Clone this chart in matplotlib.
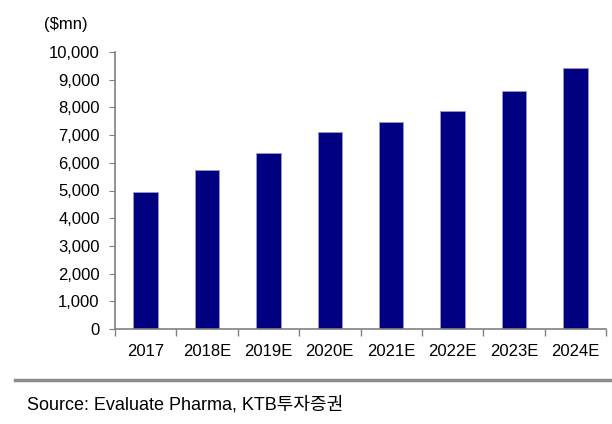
import matplotlib
matplotlib.use('Agg')
import matplotlib.pyplot as plt
from matplotlib.ticker import FuncFormatter, FixedLocator
from matplotlib.lines import Line2D

# market size ($mn)
years = ['2017', '2018E', '2019E', '2020E', '2021E', '2022E', '2023E', '2024E']
sales = [4960, 5730, 6340, 7120, 7460, 7860, 8600, 9430]

plt.rcParams['font.family'] = ['Liberation Sans Narrow', 'Liberation Sans', 'DejaVu Sans']

fig = plt.figure(figsize=(6.12, 4.24), dpi=100)
ax = fig.add_axes([115 / 612, 95 / 424, 491 / 612, 277 / 424])

x = range(len(years))
ax.bar(x, sales, width=0.4, color='#000080', edgecolor='#9999cc', linewidth=0.6)

ax.set_xlim(-0.5, len(years) - 0.5)
ax.set_ylim(0, 10000)
ax.set_yticks(range(0, 10001, 1000))
ax.yaxis.set_major_formatter(FuncFormatter(lambda v, p: f'{int(v):,}'))
ax.set_xticks(list(x))
ax.set_xticklabels(years)
ax.xaxis.set_minor_locator(FixedLocator([i - 0.5 for i in range(len(years) + 1)]))

for s in ['top', 'right']:
    ax.spines[s].set_visible(False)
for s in ['left', 'bottom']:
    ax.spines[s].set_color('#808080')
    ax.spines[s].set_linewidth(1.2)

ax.tick_params(axis='y', length=4, color='#808080', labelsize=12, pad=7)
ax.tick_params(axis='x', which='major', length=0, labelsize=12, pad=11)
ax.tick_params(axis='x', which='minor', length=5, color='#808080', width=1)

fig.text(88 / 612, 1 - 24 / 424, '($mn)', ha='right', va='center', fontsize=12)

fig.add_artist(Line2D([15 / 612, 1.0], [1 - 380 / 424] * 2, color='#8c8c8c', linewidth=2.5))
fig.text(27 / 612, 1 - 405 / 424, 'Source: Evaluate Pharma, KTB투자증권', ha='left', va='center',
         fontsize=13, family=['Liberation Sans', 'Noto Sans CJK KR'])

fig.savefig('out.png', dpi=100)
